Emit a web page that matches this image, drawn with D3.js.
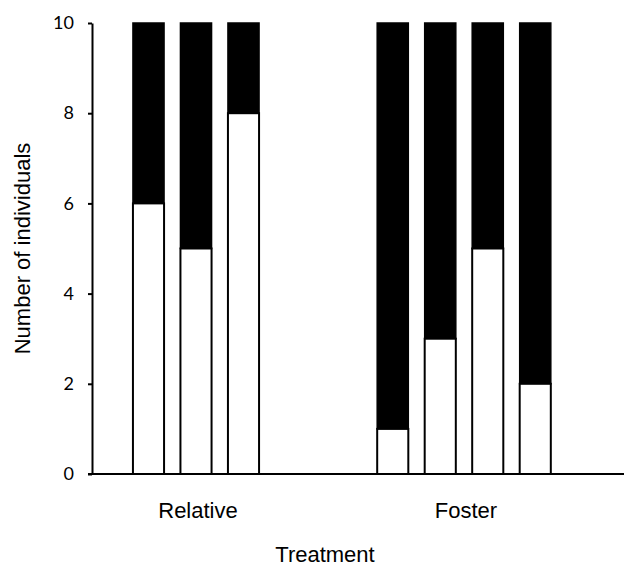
<!DOCTYPE html>
<html>
<head>
<meta charset="utf-8">
<script src="https://cdn.jsdelivr.net/npm/d3@7"></script>
<style>
  html, body { margin: 0; padding: 0; background: #fff; }
  svg { display: block; }
</style>
</head>
<body>
<svg id="chart" width="624" height="567"></svg>
<script>
// ---- data ----
const groups = ["Relative", "Foster"];
const relativeValues = [6, 5, 8];   // white (lower) part of each bar
const fosterValues = [1, 3, 5, 2];
const totalPerBar = 10;             // each bar stacks to 10 individuals
const yTicks = [0, 2, 4, 6, 8, 10];
const yTitle = "Number of individuals";
const xTitle = "Treatment";

const seriesByGroup = { "Relative": relativeValues, "Foster": fosterValues };

// ---- layout ----
const svg = d3.select("#chart");
const plotLeft = 92, plotRight = 624, plotTop = 23, plotBottom = 474;

const y = d3.scaleLinear().domain([0, 10]).range([plotBottom, plotTop]);
const groupX = d3.scalePoint().domain(groups).range([196, 464]);
const step = 47.5;

// bars
groups.forEach(g => {
  const vals = seriesByGroup[g];
  const n = vals.length;
  const inner = d3.scaleBand()
    .domain(d3.range(n))
    .range([-n * step / 2, n * step / 2])
    .paddingInner(0.345)
    .paddingOuter(0.1725);
  const gEl = svg.append("g").attr("transform", `translate(${groupX(g)},0)`);
  gEl.selectAll("rect.top").data(vals).join("rect")
    .attr("class", "top")
    .attr("x", (d, i) => inner(i))
    .attr("width", inner.bandwidth())
    .attr("y", y(totalPerBar))
    .attr("height", d => y(d) - y(totalPerBar))
    .attr("fill", "#000")
    .attr("stroke", "#000")
    .attr("stroke-width", 1.5);
  gEl.selectAll("rect.bot").data(vals).join("rect")
    .attr("class", "bot")
    .attr("x", (d, i) => inner(i))
    .attr("width", inner.bandwidth())
    .attr("y", d => y(d))
    .attr("height", d => y(0) - y(d))
    .attr("fill", "#fff")
    .attr("stroke", "#000")
    .attr("stroke-width", 2);
});

// y axis
const yAxis = d3.axisLeft(y).tickValues(yTicks).tickSize(4).tickSizeOuter(0).tickPadding(14);
const yg = svg.append("g").attr("transform", `translate(${plotLeft},0)`).call(yAxis);
yg.select(".domain").attr("stroke", "#000").attr("stroke-width", 2);
yg.selectAll(".tick line").attr("stroke", "#000").attr("stroke-width", 2);
yg.selectAll(".tick text")
  .attr("font-family", "Lato, 'Open Sans', sans-serif")
  .attr("font-size", 18)
  .attr("fill", "#000");

// x axis line
svg.append("line")
  .attr("x1", plotLeft - 4).attr("x2", plotRight)
  .attr("y1", y(0)).attr("y2", y(0))
  .attr("stroke", "#000").attr("stroke-width", 2);

// group labels
svg.selectAll("text.cat").data(groups).join("text")
  .attr("class", "cat")
  .attr("x", d => groupX(d) + 2)
  .attr("y", 518)
  .attr("text-anchor", "middle")
  .attr("font-family", "Arial, 'Liberation Sans', sans-serif")
  .attr("font-size", 22)
  .attr("fill", "#000")
  .text(d => d);

// x title
svg.append("text")
  .attr("x", 325).attr("y", 562)
  .attr("text-anchor", "middle")
  .attr("font-family", "Arial, 'Liberation Sans', sans-serif")
  .attr("font-size", 22)
  .attr("fill", "#000")
  .text(xTitle);

// y title
svg.append("text")
  .attr("transform", `translate(30,${(plotTop + plotBottom) / 2}) rotate(-90)`)
  .attr("text-anchor", "middle")
  .attr("font-family", "Arial, 'Liberation Sans', sans-serif")
  .attr("font-size", 22)
  .attr("fill", "#000")
  .text(yTitle);
</script>
</body>
</html>
